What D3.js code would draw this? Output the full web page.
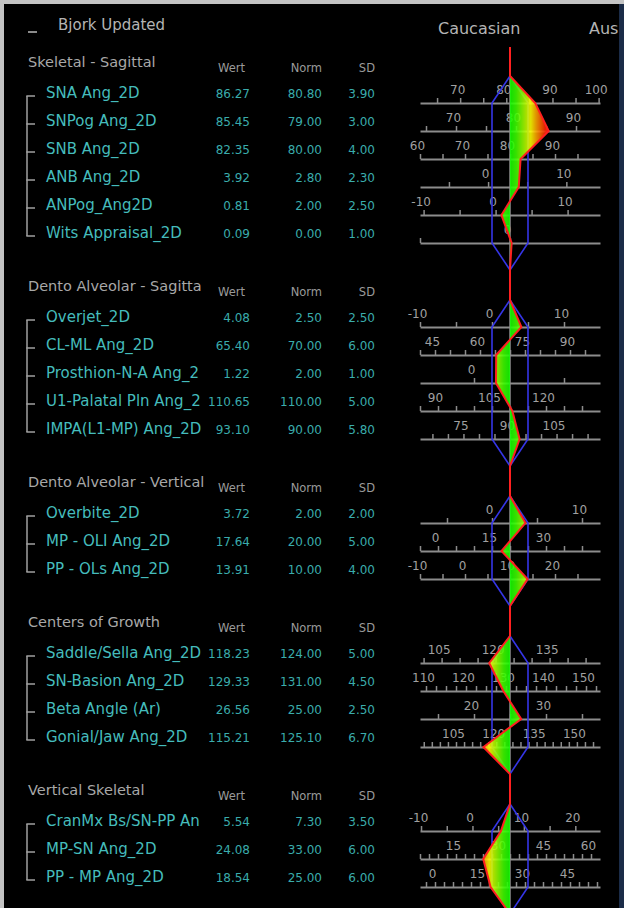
<!DOCTYPE html>
<html>
<head>
<meta charset="utf-8">
<script src="https://cdn.jsdelivr.net/npm/d3@7"></script>
<style>
body { margin: 0; background: #000; }
svg { display: block; }
</style>
</head>
<body>
<script>
// sections and measurements
var sections = ["Skeletal - Sagittal", "Dento Alveolar - Sagittal", "Dento Alveolar - Vertical", "Centers of Growth", "Vertical Skeletal"];
var sectionOf = [0, 0, 0, 0, 0, 0, 1, 1, 1, 1, 1, 2, 2, 2, 3, 3, 3, 3, 4, 4, 4];
var names = ["SNA Ang_2D", "SNPog Ang_2D", "SNB Ang_2D", "ANB Ang_2D", "ANPog_Ang2D", "Wits Appraisal_2D",
	"Overjet_2D", "CL-ML Ang_2D", "Prosthion-N-A Ang_2D", "U1-Palatal Pln Ang_2D", "IMPA(L1-MP) Ang_2D",
	"Overbite_2D", "MP - OLI Ang_2D", "PP - OLs Ang_2D",
	"Saddle/Sella Ang_2D", "SN-Basion Ang_2D", "Beta Angle (Ar)", "Gonial/Jaw Ang_2D",
	"CranMx Bs/SN-PP Ang_2D", "MP-SN Ang_2D", "PP - MP Ang_2D"];
var wert = [86.27, 85.45, 82.35, 3.92, 0.81, 0.09, 4.08, 65.40, 1.22, 110.65, 93.10, 3.72, 17.64, 13.91, 118.23, 129.33, 26.56, 115.21, 5.54, 24.08, 18.54];
var norm = [80.80, 79.00, 80.00, 2.80, 2.00, 0.00, 2.50, 70.00, 2.00, 110.00, 90.00, 2.00, 20.00, 10.00, 124.00, 131.00, 25.00, 125.10, 7.30, 33.00, 25.00];
var sd = [3.90, 3.00, 4.00, 2.30, 2.50, 1.00, 2.50, 6.00, 1.00, 5.00, 5.80, 2.00, 5.00, 4.00, 5.00, 4.50, 2.50, 6.70, 3.50, 6.00, 6.00];
var labelStep = [10, 10, 10, 10, 10, 10, 10, 15, 10, 15, 15, 10, 15, 10, 15, 10, 10, 15, 10, 15, 15];
var tickStep = [5, 5, 5, 5, 5, 5, 5, 5, 5, 5, 5, 5, 5, 5, 5, 2.5, 5, 3, 5, 3, 3];
var colHeads = ["Wert", "Norm", "SD"];

var W = 624, H = 908;
var cx = 510;      // norm line
var half = 90;     // 5 SD each side
var sdPx = half / 5;
var rowH = 28;
var y0 = 103;
var nameRight = 205; // name column is cut here
var font = "DejaVu Sans, sans-serif";

var svg = d3.select("body").append("svg")
	.attr("width", W)
	.attr("height", H);

svg.append("rect").attr("width", W).attr("height", H).attr("fill", "#000");
// window frame bits
svg.append("rect").attr("x", 0).attr("y", 0).attr("width", W).attr("height", 4).attr("fill", "#c4c4c4");
svg.append("rect").attr("x", 0).attr("y", 0).attr("width", 4).attr("height", H).attr("fill", "#c4c4c4");
svg.append("rect").attr("x", 619).attr("y", 4).attr("width", 5).attr("height", H).attr("fill", "#1b2c48");

// row positions
var rowY = [];
var k = 0;
names.forEach(function (d, i) {
	if (i > 0) k += (sectionOf[i] != sectionOf[i - 1]) ? 3 : 1;
	rowY.push(y0 + k * rowH);
});
var scales = names.map(function (d, i) {
	return d3.scaleLinear().domain([norm[i] - 5 * sd[i], norm[i] + 5 * sd[i]]).range([cx - half, cx + half]);
});
var secInfo = sections.map(function (s, j) {
	var rows = d3.range(names.length).filter(function (i) { return sectionOf[i] == j; });
	var first = rowY[rows[0]], last = rowY[rows[rows.length - 1]];
	return { rows: rows, first: first, last: last, top: first - 27, bottom: last + 27 };
});

// cut a text so it ends before the column edge
function fitText(t, x0) {
	var s = t.text();
	while (s.length > 1 && t.node().getComputedTextLength() > nameRight - x0) {
		s = s.slice(0, -1);
		t.text(s);
	}
}

// header
svg.append("line").attr("x1", 28).attr("x2", 37).attr("y1", 32).attr("y2", 32)
	.attr("stroke", "#b8b8b8").attr("stroke-width", 1.5);
svg.append("text").attr("x", 58).attr("y", 30).text("Bjork Updated")
	.style("font-family", font).style("font-size", "15px").attr("fill", "#b4b4b4");
svg.append("text").attr("x", 438).attr("y", 34).text("Caucasian")
	.style("font-family", font).style("font-size", "16px").attr("fill", "#b4b4b4");
svg.append("text").attr("x", 589).attr("y", 34).text("Aus")
	.style("font-family", font).style("font-size", "16px").attr("fill", "#b4b4b4");

var left = svg.append("g");
secInfo.forEach(function (s, j) {
	var h = left.append("text").attr("x", 28).attr("y", s.first - 36).text(sections[j])
		.style("font-family", font).style("font-size", "14.5px").attr("fill", "#a8a8a8");
	fitText(h, 28);
	[245, 322, 375].forEach(function (x, c) {
		left.append("text").attr("x", x).attr("y", s.first - 31).attr("text-anchor", "end").text(colHeads[c])
			.style("font-family", font).style("font-size", "11.5px").attr("fill", "#9a9a9a");
	});
	// bracket
	var ty = s.rows.map(function (i) { return rowY[i] - 7; });
	left.append("line").attr("x1", 27).attr("x2", 27).attr("y1", ty[0]).attr("y2", ty[ty.length - 1])
		.attr("stroke", "#a0a0a0").attr("stroke-width", 1.5);
	ty.forEach(function (y) {
		left.append("line").attr("x1", 26.3).attr("x2", 35).attr("y1", y).attr("y2", y)
			.attr("stroke", "#a0a0a0").attr("stroke-width", 1.5);
	});
});

names.forEach(function (n, i) {
	var y = rowY[i] - 5;
	var t = left.append("text").attr("x", 46).attr("y", y).text(n)
		.style("font-family", font).style("font-size", "15px").attr("fill", "#45bcbc");
	fitText(t, 46);
	[[250, wert[i]], [322, norm[i]], [375, sd[i]]].forEach(function (p) {
		left.append("text").attr("x", p[0]).attr("y", y).attr("text-anchor", "end").text(p[1].toFixed(2))
			.style("font-family", font).style("font-size", "12px").attr("fill", "#3aacac");
	});
});

// axes
var axes = svg.append("g");
names.forEach(function (n, i) {
	var sc = scales[i];
	var dom = sc.domain();
	var eps = 1e-6;
	var vals = [];
	for (var v = Math.ceil((dom[0] - eps) / tickStep[i]) * tickStep[i]; v < dom[1] - 0.01 * sd[i]; v += tickStep[i]) {
		vals.push(Math.round(v * 1000) / 1000);
	}
	var ax = d3.axisTop(sc)
		.tickValues(vals)
		.tickSize(5)
		.tickSizeOuter(0)
		.tickPadding(4)
		.tickFormat(function (v) {
			var q = v / labelStep[i];
			return Math.abs(q - Math.round(q)) < 1e-6 ? String(Math.round(v)) : "";
		});
	var g = axes.append("g").attr("transform", "translate(0," + rowY[i] + ")").call(ax);
	g.select(".domain").attr("stroke", "#8c8c8c").attr("stroke-width", 2);
	g.selectAll(".tick line").attr("stroke", "#8c8c8c").attr("stroke-width", 1.5);
	g.selectAll(".tick text").attr("fill", "#a0a0a0").attr("dx", -3)
		.style("font-family", font).style("font-size", "12px");
});

// deviation gradient
var grad = svg.append("defs").append("linearGradient").attr("id", "dev")
	.attr("gradientUnits", "userSpaceOnUse")
	.attr("x1", cx - 2.4 * sdPx).attr("x2", cx + 2.4 * sdPx).attr("y1", 0).attr("y2", 0);
var stopsSd = [-2.4, -2.1, -1.8, -1.45, -1.15, -0.85, -0.35, 0, 0.35, 0.85, 1.15, 1.45, 1.8, 2.1, 2.4];
var stopsCol = ["#ff0000", "#ff0000", "#ff5000", "#ffa800", "#ffff00", "#b4ff00", "#40ff00", "#10ff00", "#40ff00", "#b4ff00", "#ffff00", "#ffa800", "#ff5000", "#ff0000", "#ff0000"];
stopsSd.forEach(function (s, j) {
	grad.append("stop").attr("offset", (s + 2.4) / 4.8).attr("stop-color", stopsCol[j]);
});

var line = d3.line();
var marks = svg.append("g");
var redPts = [[cx, 47]];
secInfo.forEach(function (s) {
	var pts = [[cx, s.top]].concat(s.rows.map(function (i) { return [scales[i](wert[i]), rowY[i]]; }), [[cx, s.bottom]]);
	// norm line
	marks.append("line").attr("x1", cx).attr("x2", cx).attr("y1", s.top).attr("y2", s.bottom)
		.attr("stroke", "#8c8c8c").attr("stroke-width", 1.5);
	// +-1 SD band
	var hex = [[cx, s.top], [cx + sdPx, s.first], [cx + sdPx, s.last], [cx, s.bottom], [cx - sdPx, s.last], [cx - sdPx, s.first]];
	marks.append("path").attr("d", line(hex) + "Z")
		.attr("fill", "none").attr("stroke", "#3535e6").attr("stroke-width", 1.6);
	marks.append("path").attr("d", line(pts) + "Z")
		.attr("fill", "url(#dev)").attr("fill-opacity", 0.88).attr("stroke", "none");
	redPts = redPts.concat(pts);
});
redPts.push([cx, H + 10]);
marks.append("path").attr("d", line(redPts))
	.attr("fill", "none").attr("stroke", "#ff2020").attr("stroke-width", 2);
</script>
</body>
</html>
